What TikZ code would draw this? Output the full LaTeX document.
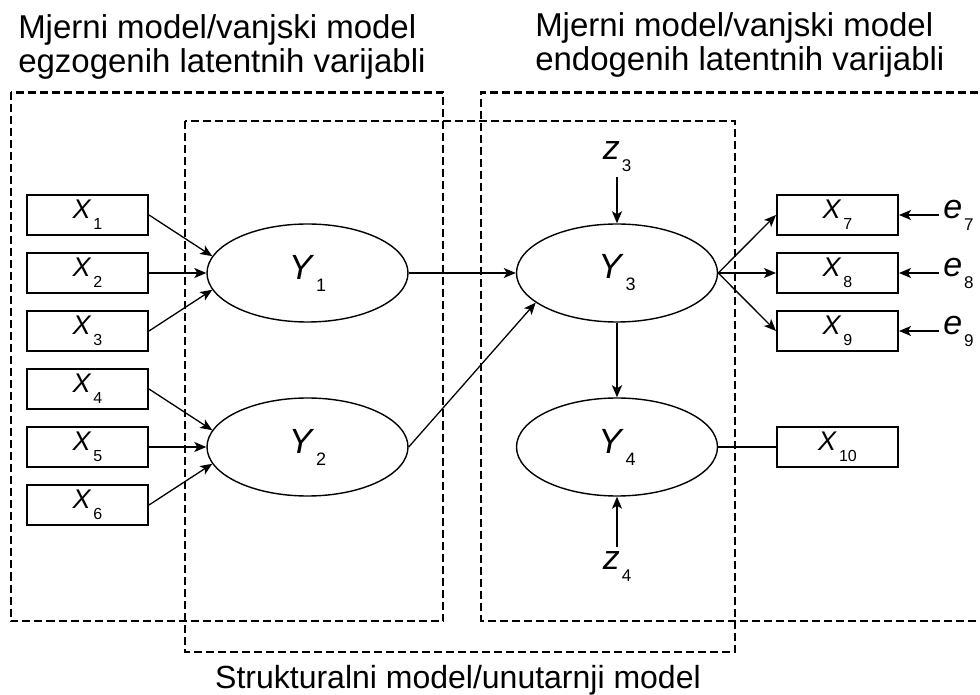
\documentclass[tikz,border=0pt]{standalone}
\usepackage{fontspec}
\setmainfont{Liberation Sans}
\usetikzlibrary{arrows.meta,shapes.geometric,positioning}

\newcommand{\lv}[5]{{\fontsize{#3}{#3}\selectfont\textit{#1}}\kern2pt\raisebox{-#5}{\fontsize{#4}{#4}\selectfont #2}}
\newcommand{\obsx}[1]{\lv{X}{#1}{27}{16}{11pt}}
\newcommand{\latY}[1]{\lv{Y}{#1}{35}{18}{12pt}}
\newcommand{\err}[2]{\lv{#1}{#2}{34}{17}{12pt}}

\begin{document}
\begin{tikzpicture}[->,x=1pt,y=1pt,node distance=58pt,
    >={Stealth[length=12pt,width=10pt,inset=3pt]},line width=1.3pt,
    lat/.style={draw,ellipse,line width=1.4pt,minimum width=201pt,minimum height=98pt,inner sep=0pt},
    obs/.style={draw,rectangle,line width=2pt,minimum width=121pt,minimum height=40pt,inner sep=0pt},
    res/.style={inner sep=4pt},
    area/.style={draw,-,dash pattern=on 8pt off 4pt,line width=2.2pt},
    title/.style={font=\fontsize{33}{34}\selectfont,align=left,inner sep=0pt}]
            \useasboundingbox (0,0) rectangle (980,694);

            \node[lat] (Y1) at (307.5,421) {\latY{1}};
            \node[lat] (Y2) [below of=Y1,node distance=174pt] {\latY{2}};
            \node[lat] (Y3) [right of=Y1,node distance=309.5pt] {\latY{3}};
            \node[lat] (Y4) [below of=Y3,node distance=174pt] {\latY{4}};

            \node[obs] (x2) [left of=Y1,node distance=220pt] {\obsx{2}};
            \node[obs] (x1) [above of=x2] {\obsx{1}};
            \node[obs] (x3) [below of=x2] {\obsx{3}};
            \node[obs] (x5) [left of=Y2,node distance=220pt] {\obsx{5}};
            \node[obs] (x4) [above of=x5] {\obsx{4}};
            \node[obs] (x6) [below of=x5] {\obsx{6}};

            \node[obs] (x8) [right of=Y3,node distance=220.5pt] {\obsx{8}};
            \node[obs] (x7) [above of=x8] {\obsx{7}};
            \node[obs] (x9) [below of=x8] {\obsx{9}};
            \node[obs] (x10) [right of=Y4,node distance=220.5pt] {\obsx{10}};

            \node[res] (e7) [right of=x7,node distance=121pt] {\err{e}{7}};
            \node[res] (e8) [right of=x8,node distance=121pt] {\err{e}{8}};
            \node[res] (e9) [right of=x9,node distance=121pt] {\err{e}{9}};
            \node[res] (z3) [above of=Y3,node distance=116pt] {\err{z}{3}};
            \node[res] (z4) [below of=Y4,node distance=120pt] {\err{z}{4}};

            \path (x1.east) edge (Y1.170);
            \path (x2) edge (Y1);
            \path (x3.east) edge (Y1.190);
            \path (x4.east) edge (Y2.170);
            \path (x5) edge (Y2);
            \path (x6.east) edge (Y2.190);

            \path (Y1) edge (Y3);
            \path (Y2.east) edge (Y3.200);
            \path (z3) edge (Y3);
            \path (z4) edge (Y4);
            \path (Y3) edge[line width=2.5pt] (Y4);

            \path (Y3.east) edge (x7.west);
            \path (Y3) edge (x8);
            \path (Y3.east) edge (x9.west);
            \path (Y4) edge[-] (x10);

            \path (e7) edge (x7);
            \path (e8) edge (x8);
            \path (e9) edge (x9);

            % measurement and structural parts
            \draw[area] (11,601.5) rectangle (443,73);
            \draw[area] (185,573) rectangle (735,42);
            \draw[area] (990,601.5) -- (481,601.5) -- (481,73) -- (990,73);

            \node[title,anchor=north west] (exotitle) at (17.6,680) {Mjerni model/vanjski model\\egzogenih latentnih varijabli};
            \node[title,anchor=north west] (endotitle) at (534.6,682) {Mjerni model/vanjski model\\endogenih latentnih varijabli};
            \node[title,anchor=base,font=\fontsize{32}{34}\selectfont] (structitle) at (458,6) {Strukturalni model/unutarnji model};
        \end{tikzpicture}
\end{document}
